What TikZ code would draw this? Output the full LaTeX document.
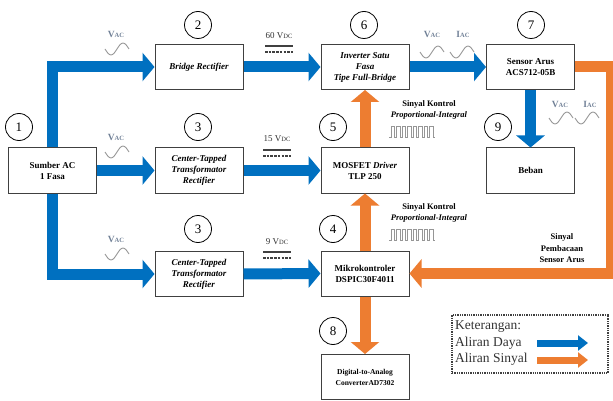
\documentclass[tikz,border=0pt]{standalone}
\usepackage{fontspec}
\setmainfont{Liberation Serif}
\usetikzlibrary{arrows.meta}

\definecolor{daya}{RGB}{0,112,192}
\definecolor{sinyal}{RGB}{237,125,49}
\definecolor{gelombang}{RGB}{150,150,150}
\definecolor{teksac}{RGB}{112,128,150}
\definecolor{garis}{RGB}{64,64,64}

\newcommand{\kecil}[1]{{\fontsize{6.5}{6.5}\selectfont #1}}

\tikzset{
  blok/.style={draw=garis, line width=1pt, fill=white, minimum width=88pt, minimum height=45pt,
    align=center, inner sep=1pt, font=\bfseries\fontsize{9}{11}\selectfont},
  nomor/.style={draw, circle, line width=0.8pt, minimum size=27pt, inner sep=0pt,
    font=\fontsize{13}{13}\selectfont},
  panahdaya/.style={draw=daya, line width=11pt, -{Triangle[width=28pt,length=12pt]}},
  panahsinyal/.style={draw=sinyal, line width=11pt, -{Triangle[width=28pt,length=12pt]}},
  gel/.style={draw=gelombang, line width=0.9pt},
  teksac/.style={text=teksac, font=\bfseries\fontsize{9.5}{10}\selectfont, inner sep=0pt},
  teksdc/.style={text=black!80, font=\fontsize{9}{9}\selectfont, inner sep=0pt},
  ket/.style={align=center, inner sep=0pt, font=\bfseries\fontsize{8.5}{11}\selectfont},
  legenda/.style={anchor=west, inner sep=0pt, text=black!80, font=\fontsize{13.5}{14}\selectfont},
}

\newcommand{\gelac}[2]{\draw[gel] (#1,#2) ++(-12,0) sin ++(6,6) cos ++(6,-6) sin ++(6,-6) cos ++(6,6);}
\newcommand{\simboldc}[2]{%
  \draw[garis, line width=1.5pt] (#1,#2) -- ++(28,0);
  \draw[garis, line width=1.5pt, dash pattern=on 2.5pt off 1.2pt] (#1,#2+6) -- ++(28,0);}
\newcommand{\pulsa}[2]{\draw[gel] (#1,#2) \foreach \i in {1,...,8} { -- ++(2,0) -- ++(0,-11) -- ++(3.5,0) -- ++(0,11) } -- ++(2,0);}

\begin{document}
\begin{tikzpicture}[x=1pt, y=-1pt]
    \useasboundingbox (0,0) rectangle (613,401);

    \node [blok] (src) at (52.5,170.5) {Sumber AC\\1 Fasa};
    \node [blok] (bridge) at (199,67) {\textit{Bridge Rectifier}};
    \node [blok] (ct1) at (199,170.5) {\textit{Center-Tapped}\\\textit{Transformator}\\\textit{Rectifier}};
    \node [blok] (ct2) at (199,274) {\textit{Center-Tapped}\\\textit{Transformator}\\\textit{Rectifier}};
    \node [blok] (inv) at (365,67) {\textit{Inverter Satu}\\\textit{Fasa}\\\textit{Tipe Full-Bridge}};
    \node [blok] (sensor) at (530.5,67) {Sensor Arus\\ACS712-05B};
    \node [blok] (mosfet) at (365,170.5) {MOSFET \textit{Driver}\\TLP 250};
    \node [blok] (beban) at (530.5,170.5) {Beban};
    \node [blok] (mcu) at (365,273.5) {Mikrokontroler\\DSPIC30F4011};
    \node [blok, font=\bfseries\fontsize{7.5}{11}\selectfont] (dac) at (365,377) {Digital-to-Analog\\ConverterAD7302};

    % power flow
    \draw [panahdaya] (src.north) |- (bridge.west);
    \draw [panahdaya] (src.east) -- (ct1.west);
    \draw [panahdaya] (src.south) |- (ct2.west);
    \draw [panahdaya] (bridge.east) -- (inv.west);
    \draw [panahdaya] (ct1.east) -- (mosfet.west);
    \draw [panahdaya] (ct2.east) -- (mcu.west);
    \draw [panahdaya] (inv.east) -- (sensor.west);
    \draw [panahdaya] (sensor.south) -- (beban.north);
    % signal flow
    \draw [panahsinyal] (mosfet.north) -- (inv.south);
    \draw [panahsinyal] (mcu.north) -- (mosfet.south);
    \draw [panahsinyal] (mcu.south) -- (dac.north);
    \draw [panahsinyal] (sensor.east) -- ++(36,0) |- (mcu.east);

    % numbers
    \node [nomor] (n1) at (19,127) {1};
    \node [nomor] (n2) at (198,25) {2};
    \node [nomor] (n3) at (198,127) {3};
    \node [nomor] (n3b) at (198,229) {3};
    \node [nomor] (n6) at (364,25) {6};
    \node [nomor] (n7) at (531,25) {7};
    \node [nomor] (n5) at (333,127) {5};
    \node [nomor] (n9) at (498,127) {9};
    \node [nomor] (n4) at (333,229) {4};
    \node [nomor] (n8) at (333,331) {8};

    % AC labels
    \node [teksac] (vac1) at (116,34) {V\kecil{AC}};
    \gelac{117}{49}
    \node [teksac] (vac2) at (116,137) {V\kecil{AC}};
    \gelac{117}{152}
    \node [teksac] (vac3) at (116,239) {V\kecil{AC}};
    \gelac{117}{254}
    \node [teksac] (vac4) at (432,34) {V\kecil{AC}};
    \gelac{432}{52}
    \node [teksac] (iac4) at (463,34) {I\kecil{AC}};
    \gelac{462}{52}
    \node [teksac] (vac5) at (560,104) {V\kecil{AC}};
    \gelac{561}{118}
    \node [teksac] (iac5) at (590,104) {I\kecil{AC}};
    \gelac{587}{118}

    % DC labels
    \node [teksdc] (vdc1) at (279,36) {60 V\kecil{DC}};
    \simboldc{265}{46}
    \node [teksdc] (vdc2) at (277,139) {15 V\kecil{DC}};
    \simboldc{263}{150}
    \node [teksdc] (vdc3) at (277,242) {9 V\kecil{DC}};
    \simboldc{263}{252}

    % control signals
    \node [ket] (sk1) at (429,109.5) {Sinyal Kontrol\\\textit{Proportional-Integral}};
    \pulsa{389}{137}
    \node [ket] (sk2) at (429,212.5) {Sinyal Kontrol\\\textit{Proportional-Integral}};
    \pulsa{389}{240}
    \node [ket, font=\bfseries\fontsize{8.5}{11.5}\selectfont] (spsa) at (562,248.5) {Sinyal\\Pembacaan\\Sensor Arus};

    % legend
    \node [draw=garis, densely dotted, line width=1.3pt, minimum width=156pt, minimum height=58pt] (kotak) at (530,344) {};
    \node [legenda] (ketr) at (455,327) {Keterangan:};
    \node [legenda] (aldaya) at (455,343) {Aliran Daya};
    \node [legenda] (alsinyal) at (455,359.5) {Aliran Sinyal};
    \coordinate (d1) at (537,343);
    \coordinate (d2) at (588,343);
    \coordinate (s1) at (537,360);
    \coordinate (s2) at (588,360);
    \draw [draw=daya, line width=7pt, -{Triangle[width=15pt,length=10pt]}] (d1) -- (d2);
    \draw [draw=sinyal, line width=7pt, -{Triangle[width=15pt,length=10pt]}] (s1) -- (s2);
\end{tikzpicture}
\end{document}
